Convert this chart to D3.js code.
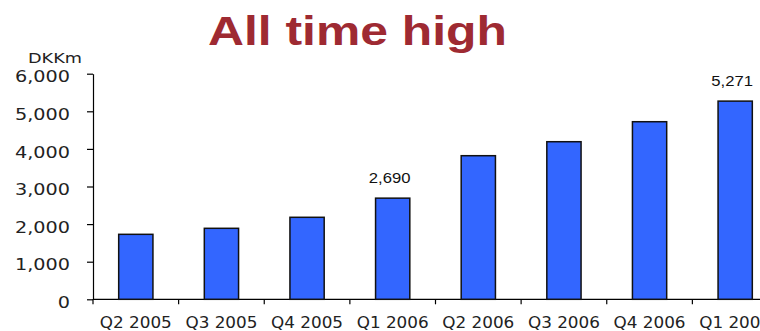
<!DOCTYPE html>
<html>
<head>
<meta charset="utf-8">
<script src="https://cdn.jsdelivr.net/npm/d3@7"></script>
<style>
  html, body { margin: 0; padding: 0; background: #fff; overflow: hidden; }
  svg { display: block; }
</style>
</head>
<body>
<svg id="chart" width="760" height="331"></svg>
<script>
const categories = ["Q2 2005", "Q3 2005", "Q4 2005", "Q1 2006", "Q2 2006", "Q3 2006", "Q4 2006", "Q1 2007"];
const values = [1728, 1888, 2181, 2690, 3819, 4191, 4723, 5271];
const labelled = ["Q1 2006", "Q1 2007"];
const yTicks = [0, 1000, 2000, 3000, 4000, 5000, 6000];
const titleText = "All time high";
const unitText = "DKKm";

const svg = d3.select("#chart");
const mLeft = 93, mRight = 778, mTop = 73.7, mBottom = 299.3;

const x = d3.scaleBand().domain(categories).range([mLeft, mRight]).paddingInner(0.6).paddingOuter(0.3);
const y = d3.scaleLinear().domain([0, 6000]).range([mBottom, mTop]);

// Title
svg.append("text")
  .attr("x", 357.5).attr("y", 45)
  .attr("text-anchor", "middle")
  .attr("font-family", "'Liberation Sans', Arial, sans-serif")
  .attr("font-weight", "bold")
  .attr("font-size", 41)
  .attr("fill", "#9E2A32")
  .attr("textLength", 299)
  .attr("lengthAdjust", "spacingAndGlyphs")
  .text(titleText);

// Unit
svg.append("text")
  .attr("x", 55).attr("y", 63)
  .attr("text-anchor", "middle")
  .attr("font-family", "'DejaVu Sans', Verdana, sans-serif")
  .attr("font-size", 13.5)
  .attr("fill", "#222")
  .attr("textLength", 54)
  .attr("lengthAdjust", "spacingAndGlyphs")
  .text(unitText);

// Y axis
const yAxis = svg.append("g")
  .attr("transform", `translate(${mLeft},0)`)
  .call(d3.axisLeft(y).tickValues(yTicks).tickFormat(d3.format(",")).tickSize(6).tickSizeOuter(0));
yAxis.select(".domain").attr("stroke", "#000").attr("stroke-width", 1.2);
yAxis.selectAll(".tick line").attr("stroke", "#000").attr("stroke-width", 1.2);
yAxis.selectAll(".tick text")
  .attr("x", -23)
  .attr("dy", "0.5em")
  .attr("font-family", "'DejaVu Sans', Verdana, sans-serif")
  .attr("font-size", 16.5)
  .attr("fill", "#222")
  .each(function() {
    const w = this.getComputedTextLength();
    d3.select(this).attr("textLength", w * 1.165).attr("lengthAdjust", "spacingAndGlyphs");
  });

// X axis line and boundary ticks
const xg = svg.append("g");
xg.append("line")
  .attr("x1", mLeft).attr("x2", 780)
  .attr("y1", mBottom).attr("y2", mBottom)
  .attr("stroke", "#000").attr("stroke-width", 1.2);
xg.selectAll("line.bt").data(categories.map(c => x(c) - x.step() * x.paddingInner() / 2))
  .join("line").attr("class", "bt")
  .attr("x1", d => d).attr("x2", d => d)
  .attr("y1", mBottom).attr("y2", mBottom + 5)
  .attr("stroke", "#000").attr("stroke-width", 1.2);

// X labels
xg.selectAll("text.xl").data(categories).join("text").attr("class", "xl")
  .attr("x", d => x(d) + x.bandwidth() / 2)
  .attr("y", mBottom + 28.5)
  .attr("text-anchor", "middle")
  .attr("font-family", "'DejaVu Sans', Verdana, sans-serif")
  .attr("font-size", 15)
  .attr("fill", "#222")
  .text(d => d)
  .each(function() {
    const w = this.getComputedTextLength();
    d3.select(this).attr("textLength", w * 1.12).attr("lengthAdjust", "spacingAndGlyphs");
  });

// Bars
const data = categories.map((c, i) => ({ c, v: values[i] }));
svg.append("g").selectAll("rect").data(data).join("rect")
  .attr("x", d => x(d.c))
  .attr("y", d => y(d.v))
  .attr("width", x.bandwidth())
  .attr("height", d => y(0) - y(d.v))
  .attr("fill", "#3366FF")
  .attr("stroke", "#111")
  .attr("stroke-width", 1.5);

// Value labels
svg.append("g").selectAll("text").data(data.filter(d => labelled.includes(d.c))).join("text")
  .attr("x", d => x(d.c) + x.bandwidth() / 2 - 3)
  .attr("y", d => y(d.v) - 15)
  .attr("text-anchor", "middle")
  .attr("font-family", "'Liberation Sans', Arial, sans-serif")
  .attr("font-size", 15)
  .attr("fill", "#111")
  .text(d => d3.format(",")(d.v))
  .each(function() {
    const w = this.getComputedTextLength();
    d3.select(this).attr("textLength", w * 1.11).attr("lengthAdjust", "spacingAndGlyphs");
  });
</script>
</body>
</html>
